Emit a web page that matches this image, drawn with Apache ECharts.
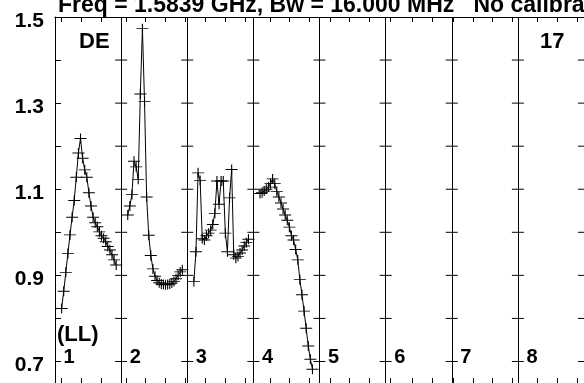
<!DOCTYPE html>
<html>
<head>
<meta charset="utf-8">
<script src="https://cdn.jsdelivr.net/npm/echarts@6/dist/echarts.min.js"></script>
<style>
html,body{margin:0;padding:0;background:#fff;}
#chart{width:584px;height:383px;}
</style>
</head>
<body>
<div id="chart"></div>
<script>
// ---- data ----
const titleText = 'Freq = 1.5839 GHz, Bw = 16.000 MHz   No calibration applied';
const panelLabels = ['1','2','3','4','5','6','7','8'];
const yTickValues = [0.7,0.8,0.9,1.0,1.1,1.2,1.3,1.4,1.5];
const yLabelValues = [0.7,0.9,1.1,1.3,1.5];
const xTickValues = [0.10,0.40,0.70,1.07,1.37,1.67,1.97,2.27,2.57,2.87,3.25,3.55,3.85,4.17,4.45,4.75,5.07,5.40,5.70,6.02,6.32,6.62,6.92,7.30,7.60,7.90];
const panel1 = [0.823,0.863,0.907,0.951,0.994,1.035,1.074,1.128,1.184,1.218,1.172,1.145,1.128,1.092,1.061,1.035,1.022,1.013,1.001,0.992,0.986,0.978,0.967,0.959,0.948,0.936,0.924];
const panel2 = [1.040,1.061,1.088,1.165,1.152,1.123,1.321,1.473,1.304,1.082,0.993,0.946,0.915,0.898,0.888,0.883,0.880,0.879,0.878,0.879,0.880,0.882,0.886,0.892,0.900,0.908,0.913];
const panel3 = [0.886,0.955,1.138,1.120,0.985,0.982,0.992,0.998,1.005,1.018,1.044,1.119,1.065,1.119,1.119,0.998,0.955,1.080,1.146,0.948,0.940,0.944,0.952,0.959,0.968,0.976,0.984];
const panel4 = [1.090,1.092,1.096,1.100,1.105,1.113,1.124,1.113,1.095,1.082,1.068,1.054,1.040,1.028,1.012,0.992,0.982,0.960,0.936,0.890,0.855,0.817,0.777,0.736,0.705,0.682];
const panels = [panel1, panel2, panel3, panel4];
const CH_PER_PANEL = 31.5;   // channel slots per panel
const CH_LEAD = 2.15;        // empty slots before channel 1

// ---- build ----
const FONT = 'Liberation Sans, Arial, Helvetica, sans-serif';
const chart = echarts.init(document.getElementById('chart'), null, {renderer:'canvas'});

const lineSeries = panels.map((vals, p) => ({
  type: 'line',
  xAxisIndex: 0, yAxisIndex: 0,
  data: vals.map((v, i) => [p + (i + 1 + CH_LEAD) / CH_PER_PANEL, v]),
  symbol: 'path://M0,6H12M6,0V12',
  symbolSize: [12, 10],
  showAllSymbol: true,
  lineStyle: {color: '#000', width: 1},
  itemStyle: {color: '#000', borderColor: '#000', borderWidth: 1, opacity: 1},
  silent: true,
  z: 5
}));

const dividerTicks = [];
for (let d = 1; d <= 8; d++) {
  yTickValues.forEach(v => { if (v < 1.5) dividerTicks.push([d, v]); });
}

const option = {
  animation: false,
  backgroundColor: '#fff',
  title: {
    text: titleText,
    left: 53, top: -11,
    textStyle: {fontFamily: FONT, fontSize: 23, fontWeight: 'bold', color: '#000'}
  },
  grid: {left: 55, top: 17, width: 533.33, height: 368.3, containLabel: false},
  xAxis: [
    {type: 'value', min: 0, max: 8, position: 'bottom',
     axisLine: {show: true, lineStyle: {color: '#000', width: 1}},
     axisTick: {show: true, inside: true, length: 5, customValues: xTickValues, lineStyle: {color: '#000'}},
     axisLabel: {show: false}, splitLine: {show: false}},
    {type: 'value', min: 0, max: 8, position: 'top',
     axisLine: {show: true, lineStyle: {color: '#000', width: 1}},
     axisTick: {show: true, inside: true, length: 5, customValues: xTickValues, lineStyle: {color: '#000'}},
     axisLabel: {show: false}, splitLine: {show: false}},
    {type: 'value', min: 0, max: 8, interval: 1, position: 'bottom',
     axisLine: {show: false}, axisTick: {show: false}, axisLabel: {show: false},
     splitLine: {show: true, lineStyle: {color: '#000', width: 1}}}
  ],
  yAxis: [
    {type: 'value', min: 0.65, max: 1.5, position: 'left',
     axisLine: {show: true, lineStyle: {color: '#000', width: 1}},
     axisTick: {show: true, inside: true, length: 6, customValues: yTickValues, lineStyle: {color: '#000'}},
     axisLabel: {show: true, customValues: yLabelValues, margin: 11,
       formatter: v => '{a|' + Number(v).toFixed(1) + '}',
       rich: {a: {padding: [8, 0, 0, 0], fontFamily: FONT, fontSize: 21, fontWeight: 'bold', color: '#000'}},
       fontFamily: FONT, fontSize: 21, fontWeight: 'bold', color: '#000'},
     splitLine: {show: false}}
  ],
  series: [
    ...lineSeries,
    {type: 'scatter', xAxisIndex: 2, yAxisIndex: 0, silent: true,
     data: dividerTicks, symbol: 'rect', symbolSize: [12, 1],
     itemStyle: {color: '#000', opacity: 1}, z: 4},
    {type: 'scatter', xAxisIndex: 2, yAxisIndex: 0, silent: true,
     data: panelLabels.map((t, i) => ({value: [i, 0.7], name: t})),
     symbol: 'rect', symbolSize: 1, itemStyle: {color: 'rgba(0,0,0,0)', opacity: 1},
     label: {show: true, position: [9, -3], formatter: p => p.name,
       align: 'left', verticalAlign: 'middle',
       fontFamily: FONT, fontSize: 20, fontWeight: 'bold', color: '#000', opacity: 1}, z: 6}
  ],
  graphic: [
    {type: 'text', left: 79, top: 31, style: {text: 'DE', font: 'bold 22px ' + FONT, fill: '#000'}},
    {type: 'text', left: 540, top: 31, style: {text: '17', font: 'bold 22px ' + FONT, fill: '#000'}},
    {type: 'text', left: 57, top: 324, style: {text: '(LL)', font: 'bold 22px ' + FONT, fill: '#000'}}
  ]
};
chart.setOption(option);
</script>
</body>
</html>
